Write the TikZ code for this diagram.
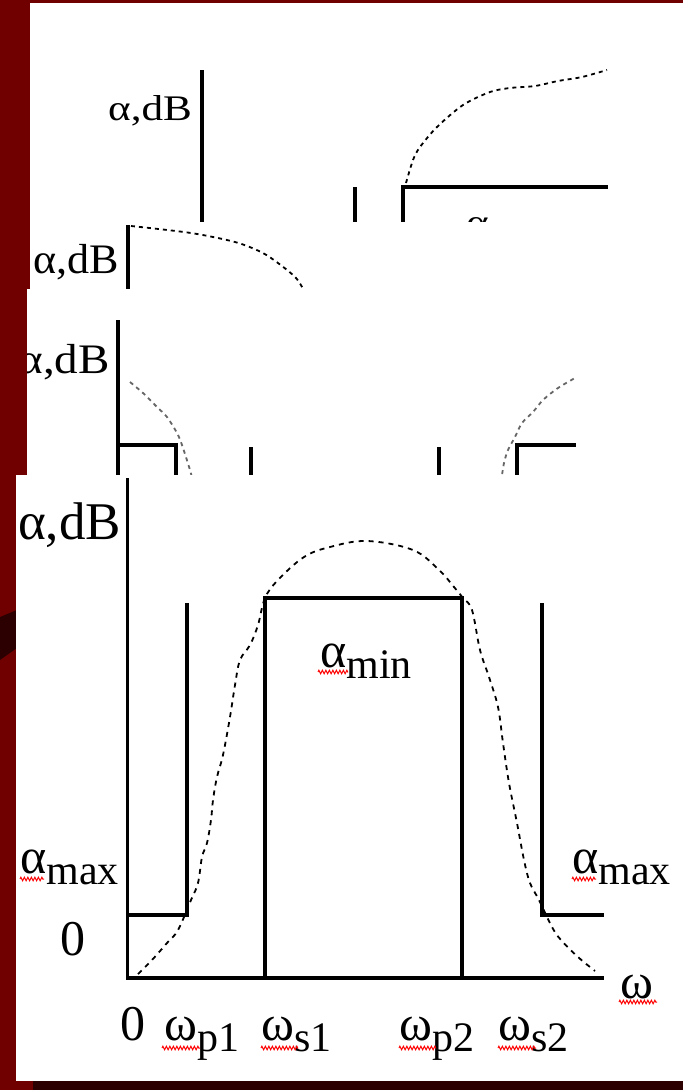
\documentclass[tikz,border=0pt]{standalone}
\usepackage{fontspec}
\setmainfont{Liberation Serif}
\usetikzlibrary{decorations.pathmorphing}
\definecolor{slidered}{RGB}{112,0,0}
\definecolor{slidedark}{RGB}{44,0,0}
\newcommand{\lowsub}[2]{#1{\fontsize{42}{42}\selectfont\raisebox{-11pt}{#2}}}
\tikzset{
  axisln/.style ={line width=3.3pt},
  bandln/.style ={line width=3.8pt},
  resp/.style   ={dash pattern=on 4pt off 4pt, line width=1.8pt},
  respg/.style  ={resp, black!60},
  lbl/.style    ={inner sep=0pt, anchor=base west},
  bigf/.style   ={font=\fontsize{50}{50}\selectfont},
  squig/.style  ={red, line width=1pt, decorate,
                  decoration={zigzag, segment length=3.5pt, amplitude=1.8pt}},
}

\begin{document}
\begin{tikzpicture}[x=1pt, y=-1pt]
  \useasboundingbox (0,0) rectangle (683,1090);
  \fill[slidered] (0,0) rectangle (683,1090);
  \fill[slidedark] (0,617) -- (17,610) -- (17,648) -- (0,660) -- cycle;

  % slide 1 (high-pass)
  \begin{scope}
    \clip (30,3) rectangle (683,222);
    \fill[white] (30,3) rectangle (683,222);
    \draw[axisln] (202,70) -- (202,230);
    \draw[bandln] (355,187) -- (355,230);
    \draw[bandln] (403,230) -- (403,187) -- (608,187);
    \draw[resp] plot[smooth] coordinates {(406,183) (413,160) (420,147)
      (437,127) (463,105) (490,92) (510,88) (535,86) (558,81) (582,77) (607,70)};
    \node[lbl, font=\fontsize{36}{36}\selectfont] (ylabA) at (108,120)
      {\scalebox{1.2}[1]{α,dB}};
    \node[lbl, font=\fontsize{36}{36}\selectfont] (aminA) at (466,234)
      {\scalebox{1.2}[1]{α}};
  \end{scope}

  % slide 2 (low-pass)
  \begin{scope}
    \clip (30,222) rectangle (683,289);
    \fill[white] (30,222) rectangle (683,289);
    \draw[axisln] (128,225) -- (128,300);
    \draw[resp] plot[smooth] coordinates {(131,226) (191,233) (235,242)
      (261,252) (278,263) (296,278) (306,294)};
    \node[lbl, font=\fontsize{42}{42}\selectfont] (ylabB) at (33,273)
      {\scalebox{1.05}[1]{α,dB}};
  \end{scope}

  % slide 3 (band-stop)
  \begin{scope}
    \clip (27,289) rectangle (683,475);
    \fill[white] (27,289) rectangle (683,475);
    \draw[axisln] (118,320) -- (118,480);
    \draw[bandln] (118,445) -- (176,445) -- (176,480);
    \draw[bandln] (251,447) -- (251,480);
    \draw[bandln] (439,447) -- (439,480);
    \draw[bandln] (517,480) -- (517,445) -- (576,445);
    \draw[respg] plot[smooth] coordinates {(130,382) (143,393) (157,407)
      (167,417) (177,433) (182,445) (190,470) (193,482)};
    \draw[respg] plot[smooth] coordinates {(501,482) (504,463) (508,450)
      (515,437) (522,423) (533,412) (543,400) (558,388) (575,378)};
    \node[inner sep=0pt, anchor=base east, font=\fontsize{42}{42}\selectfont]
      (ylabC) at (110,373) {\scalebox{1.12}[1]{α,dB}};
  \end{scope}

  % slide 4 (band-pass)
  \begin{scope}
    \clip (16,475) rectangle (683,1081);
    \fill[white] (16,475) rectangle (683,1081);
    \draw[axisln] (127.5,478) -- (127.5,978) -- (604,978);
    \draw[bandln] (127.5,915) -- (187,915) -- (187,603);
    \draw[bandln] (265,978) -- (265,598) -- (462,598) -- (462,978);
    \draw[bandln] (542,603) -- (542,915) -- (604,915);
    \draw[resp, dash pattern=on 5pt off 5pt] plot[smooth, tension=0.6]
      coordinates {(138,974) (152,960) (167,943) (178,930) (191,900)
      (198,883) (202,857) (207,843) (211,820) (213,800) (217,777) (223,755)
      (230,717) (235,685) (240,660) (250,645) (258,625) (265,598) (278,580)
      (304,557) (330,547) (367,541) (413,550) (439,570) (454,587) (463,598)
      (472,610) (480,650) (489,677) (498,707) (503,743) (509,783) (517,823)
      (524,860) (530,883) (539,900) (552,927) (561,940) (578,957) (595,971)};
    \node[lbl, font=\fontsize{53}{53}\selectfont] (ylabD) at (18,539) {α,dB};
    \node[lbl, bigf] (amin) at (320,667) {\lowsub{α}{min}};
    \node[lbl, bigf] (amaxL) at (20,873) {\lowsub{α}{max}};
    \node[lbl, bigf] (amaxR) at (572,873) {\lowsub{α}{max}};
    \node[lbl, bigf] (zeroY) at (60,955) {0};
    \node[lbl, bigf] (omg) at (620,998) {ω};
    \node[lbl, bigf] (zeroX) at (120,1040) {0};
    \node[lbl, bigf] (wpA) at (164,1040) {\lowsub{ω}{p1}};
    \node[lbl, bigf] (wsA) at (261,1040) {\lowsub{ω}{s1}};
    \node[lbl, bigf] (wpB) at (399,1040) {\lowsub{ω}{p2}};
    \node[lbl, bigf] (wsB) at (498,1040) {\lowsub{ω}{s2}};
    % spell-check marks
    \draw[squig] (318,672) -- (348,672);
    \draw[squig] (20,879) -- (44,879);
    \draw[squig] (572,879) -- (596,879);
    \draw[squig] (619,1002) -- (657,1002);
    \draw[squig] (162,1048) -- (200,1048);
    \draw[squig] (261,1048) -- (298,1048);
    \draw[squig] (399,1048) -- (436,1048);
    \draw[squig] (498,1048) -- (536,1048);
  \end{scope}

  \fill[slidedark] (33,1081) rectangle (683,1090);
\end{tikzpicture}
\end{document}
